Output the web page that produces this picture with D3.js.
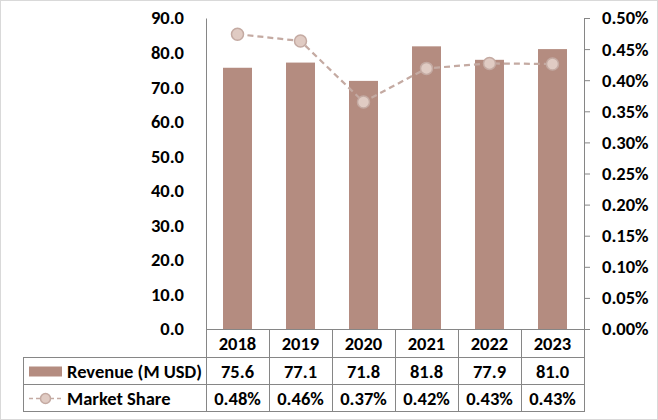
<!DOCTYPE html>
<html>
<head>
<meta charset="utf-8">
<script src="https://cdn.jsdelivr.net/npm/d3@7"></script>
<style>
  body { margin: 0; background: #fff; }
  text { font-family: "Carlito", "Liberation Sans", Arial, sans-serif; font-weight: bold; fill: #000; }
</style>
</head>
<body>
<div id="chart"></div>
<script>
// data
var years = ["2018", "2019", "2020", "2021", "2022", "2023"];
var revenue = [75.6, 77.1, 71.8, 81.8, 77.9, 81.0];
var share = [0.474, 0.463, 0.365, 0.419, 0.427, 0.426]; // percent, for the line
var shareLabels = ["0.48%", "0.46%", "0.37%", "0.42%", "0.43%", "0.43%"];
var revTicks = [0, 10, 20, 30, 40, 50, 60, 70, 80, 90];
var shareTicks = [0, 0.05, 0.1, 0.15, 0.2, 0.25, 0.3, 0.35, 0.4, 0.45, 0.5];
var seriesNames = ["Revenue (M USD)", "Market Share"];

var width = 658, height = 420;
var plotL = 206, plotR = 584, plotT = 18, plotB = 329;
var rowH = 27, tableLeft = 23;
var fontSize = "18.5px";
var barColor = "#b48c80", dotFill = "#e0cbc3", dotStroke = "#c4aaa2";

var svg = d3.select("#chart").append("svg").attr("width", width).attr("height", height);

// outer frame
svg.append("rect").attr("x", 0.5).attr("y", 0.5).attr("width", width - 1).attr("height", height - 1)
  .attr("fill", "#fff").attr("stroke", "#d9d9d9");

var x = d3.scaleBand().domain(years).range([plotL, plotR]).paddingInner(0.54).paddingOuter(0.27);
var xCol = d3.scaleBand().domain(years).range([plotL, plotR]);
var yL = d3.scaleLinear().domain([0, 90]).range([plotB, plotT]);
var yR = d3.scaleLinear().domain([0, 0.5]).range([plotB, plotT]);

// left axis
var gL = svg.append("g").attr("transform", "translate(" + plotL + ",0)")
  .call(d3.axisLeft(yL).tickValues(revTicks).tickFormat(d3.format(".1f")).tickSize(0).tickPadding(22));
gL.select(".domain").attr("stroke", "#868686");
gL.selectAll("text").style("font-size", fontSize).attr("font-family", null);

// right axis
var gR = svg.append("g").attr("transform", "translate(" + plotR + ",0)")
  .call(d3.axisRight(yR).tickValues(shareTicks).tickSizeInner(6).tickSizeOuter(6).tickPadding(12)
    .tickFormat(function(d) { return d.toFixed(2) + "%"; }));
gR.select(".domain").attr("stroke", "#868686");
gR.selectAll(".tick line").attr("stroke", "#868686");
gR.selectAll("text").style("font-size", fontSize).attr("font-family", null);

// bars
svg.append("g").selectAll("rect").data(revenue).enter().append("rect")
  .attr("x", function(d, i) { return x(years[i]); })
  .attr("y", function(d) { return yL(d); })
  .attr("width", x.bandwidth())
  .attr("height", function(d) { return plotB - yL(d); })
  .attr("fill", barColor);

// share line
var line = d3.line()
  .x(function(d, i) { return xCol(years[i]) + xCol.bandwidth() / 2; })
  .y(function(d) { return yR(d); });
svg.append("path").datum(share).attr("d", line)
  .attr("fill", "none").attr("stroke", dotStroke).attr("stroke-width", 2.25).attr("stroke-dasharray", "6,4");
svg.append("g").selectAll("circle").data(share).enter().append("circle")
  .attr("cx", function(d, i) { return xCol(years[i]) + xCol.bandwidth() / 2; })
  .attr("cy", function(d) { return yR(d); })
  .attr("r", 6).attr("fill", dotFill).attr("stroke", dotStroke).attr("stroke-width", 1.5);

// data table
var grid = "#868686";
var tbl = svg.append("g");
var rowLines = [plotB + 28, plotB + 55, plotB + 82];
var tBottom = rowLines[2];
// horizontal lines
tbl.append("line").attr("x1", plotL).attr("x2", plotR + 6).attr("y1", plotB + 0.5).attr("y2", plotB + 0.5).attr("stroke", grid);
rowLines.forEach(function(yy) {
  tbl.append("line").attr("x1", tableLeft).attr("x2", plotR + 1).attr("y1", yy + 0.5).attr("y2", yy + 0.5).attr("stroke", grid);
});
// vertical lines
tbl.append("line").attr("x1", tableLeft + 0.5).attr("x2", tableLeft + 0.5).attr("y1", rowLines[0]).attr("y2", tBottom).attr("stroke", grid);
years.forEach(function(yr) {
  tbl.append("line").attr("x1", xCol(yr) + 0.5).attr("x2", xCol(yr) + 0.5).attr("y1", plotB).attr("y2", tBottom).attr("stroke", grid);
});
tbl.append("line").attr("x1", plotR + 0.5).attr("x2", plotR + 0.5).attr("y1", plotB).attr("y2", tBottom).attr("stroke", grid);

var rowsMid = [(plotB + rowLines[0]) / 2 + 1, (rowLines[0] + rowLines[1]) / 2 + 1, (rowLines[1] + rowLines[2]) / 2 + 1];
tbl.selectAll(".yr").data(years).enter().append("text")
  .attr("x", function(d) { return xCol(d) + xCol.bandwidth() / 2; })
  .attr("y", rowsMid[0]).attr("dy", "0.35em").attr("text-anchor", "middle").style("font-size", fontSize)
  .text(function(d) { return d; });
tbl.selectAll(".rev").data(revenue).enter().append("text")
  .attr("x", function(d, i) { return xCol(years[i]) + xCol.bandwidth() / 2; })
  .attr("y", rowsMid[1]).attr("dy", "0.35em").attr("text-anchor", "middle").style("font-size", fontSize)
  .text(function(d) { return d.toFixed(1); });
tbl.selectAll(".sh").data(shareLabels).enter().append("text")
  .attr("x", function(d, i) { return xCol(years[i]) + xCol.bandwidth() / 2; })
  .attr("y", rowsMid[2]).attr("dy", "0.35em").attr("text-anchor", "middle").style("font-size", fontSize)
  .text(function(d) { return d; });

// legend keys in the table
tbl.append("rect").attr("x", 29).attr("y", rowsMid[1] - 5).attr("width", 33).attr("height", 10).attr("fill", barColor);
tbl.append("line").attr("x1", 29).attr("x2", 62).attr("y1", rowsMid[2]).attr("y2", rowsMid[2])
  .attr("stroke", dotStroke).attr("stroke-width", 1.5).attr("stroke-dasharray", "4,3");
tbl.append("circle").attr("cx", 45.5).attr("cy", rowsMid[2]).attr("r", 5).attr("fill", dotFill).attr("stroke", dotStroke).attr("stroke-width", 1.5);
seriesNames.forEach(function(name, i) {
  tbl.append("text").attr("x", 67).attr("y", rowsMid[i + 1]).attr("dy", "0.35em").style("font-size", fontSize).text(name);
});
</script>
</body>
</html>
